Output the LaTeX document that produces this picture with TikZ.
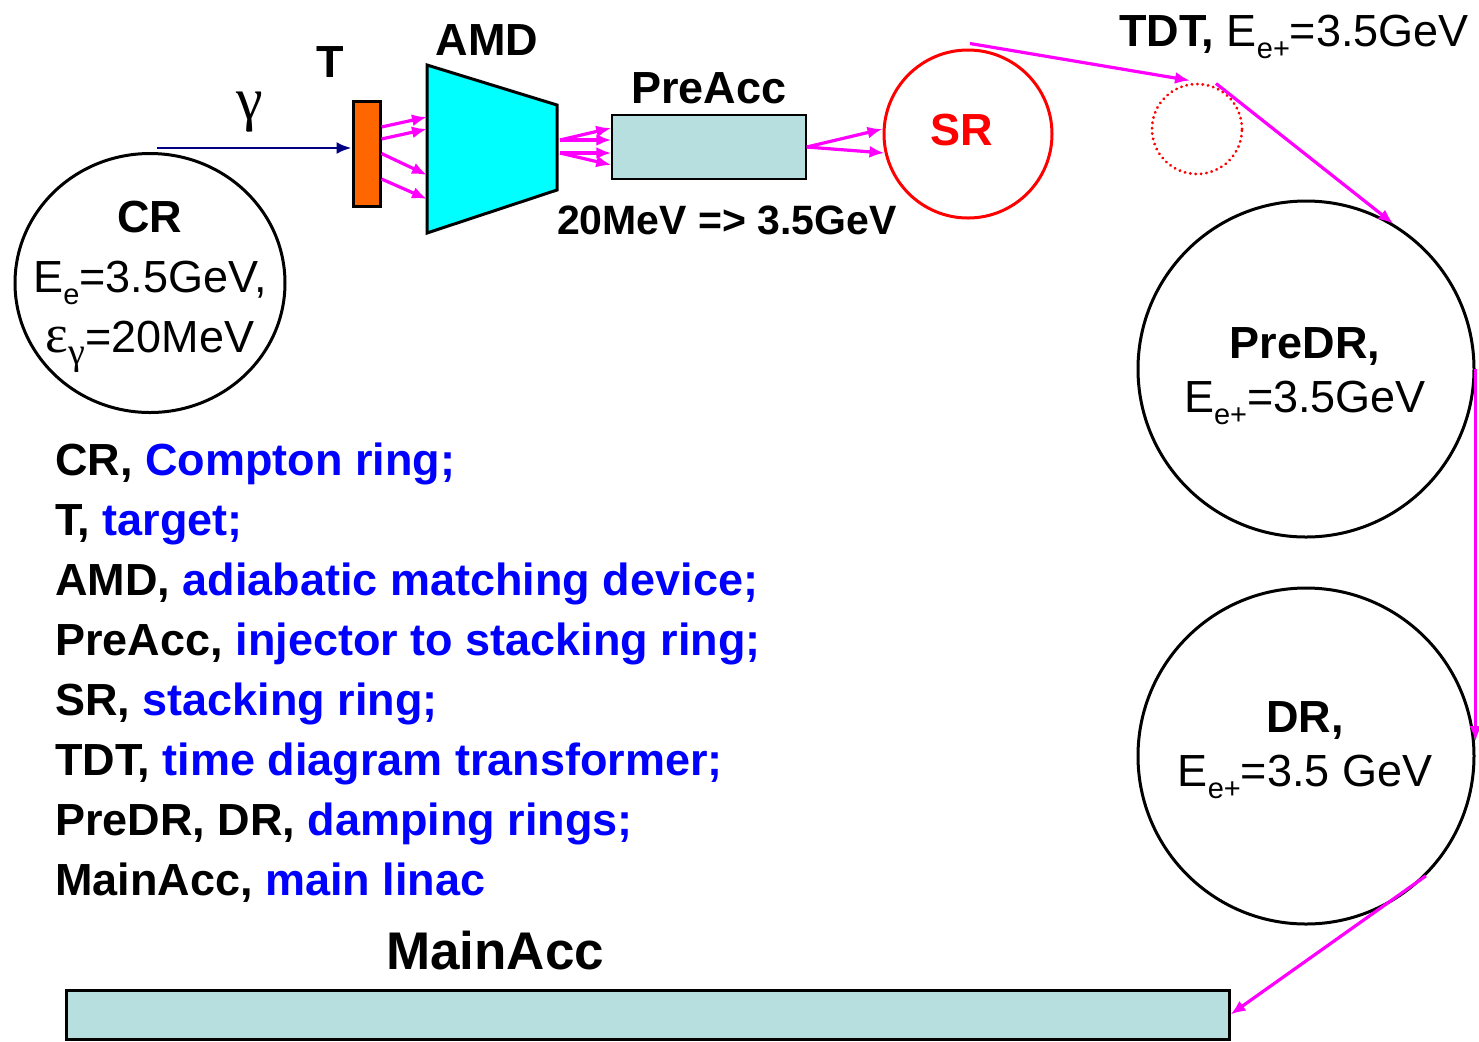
\documentclass[tikz,border=0pt]{standalone}
\usepackage{fontspec}
\setmainfont{Liberation Sans}
\newfontfamily\greekfont{Liberation Serif}
\usetikzlibrary{arrows.meta,positioning,shapes.geometric,calc}

\definecolor{amdcyan}{RGB}{0,255,255}
\definecolor{targetorange}{RGB}{255,102,0}
\definecolor{accblue}{RGB}{184,223,224}
\definecolor{beammagenta}{RGB}{255,0,255}
\definecolor{photonblue}{RGB}{0,0,128}
\definecolor{legendblue}{RGB}{0,0,255}

\newcommand{\lowsub}[1]{\raisebox{-6pt}{\fontsize{14.5}{14.5}\selectfont #1}}

\begin{document}
\begin{tikzpicture}[
  x=0.5pt, y=-0.5pt,
  lbl/.style={font=\bfseries\fontsize{22.5}{27}\selectfont, inner sep=0pt},
  val/.style={font=\fontsize{22.5}{30}\selectfont, inner sep=0pt, align=center},
  ring/.style={draw, circle, line width=1.5pt, inner sep=0pt},
  box/.style={draw, fill=accblue, inner sep=0pt},
  beam/.style={->, draw=beammagenta, line width=1.6pt},
  photon/.style={->, draw=photonblue, line width=1.3pt},
  >={Latex[length=7.5pt,width=6pt]}
]
\path[fill=white] (0,0) rectangle (1479,1041);
\useasboundingbox (0,0) rectangle (1479,1041);

\node[draw, ellipse, line width=1.5pt, minimum width=135pt, minimum height=129.5pt, inner sep=0pt] (cr) at (150,283) {};
\node[val] (crtext) at (150,287) {\textbf{CR}\\E\lowsub{e}=3.5GeV,\\{\greekfont\fontsize{27}{30}\selectfont ε}\lowsub{\greekfont\fontsize{19}{19}\selectfont γ}=20MeV};

\node[draw, fill=targetorange, line width=1.5pt, minimum width=13.5pt, minimum height=52.5pt, inner sep=0pt] (target) at (366.5,153.5) {};
\node[lbl] (tlabel) at (330,62) {T};

\coordinate (gammain) at ($(cr.north)+(7,-4)$);
\draw[photon] (gammain) -- (gammain -| target.west);
\node[val, font=\greekfont\fontsize{30}{30}\selectfont] (gammalabel) at (250,112) {γ};

\filldraw[fill=amdcyan, line width=1.5pt] (427,65) -- (557,105) -- (557,190) -- (427,233) -- cycle;
\node[lbl] (amdlabel) at (487,40) {AMD};
\coordinate (amdin1) at (427,117);
\coordinate (amdin2) at (427,129);
\coordinate (amdin3) at (427,175);
\coordinate (amdin4) at (427,199);
\coordinate (amdout1) at (560,140);
\coordinate (amdout2) at (560,153);

\draw[beam] ($(target.east)+(0,-26.5)$) -- (amdin1);
\draw[beam] ($(target.east)+(0,-14.5)$) -- (amdin2);
\draw[beam] (target.east) -- (amdin3);
\draw[beam] ($(target.east)+(0,25.5)$) -- (amdin4);

\node[box, line width=0.75pt, minimum width=97pt, minimum height=32pt] (preacc) at (709,147) {};
\node[lbl] (preacclabel) at (709,88) {PreAcc};
\node[lbl, font=\bfseries\fontsize{20.5}{24}\selectfont] (energylabel) at (727,220) {20MeV => 3.5GeV};

\draw[beam] (amdout1) -- ($(preacc.west)+(0,-19)$);
\draw[beam] (amdout1) -- ($(preacc.west)+(0,-7)$);
\draw[beam] (amdout2) -- ($(preacc.west)+(0,6)$);
\draw[beam] (amdout2) -- ($(preacc.west)+(0,18)$);

\node[ring, draw=red, minimum size=84pt] (sr) at (968,134) {};
\node[lbl, text=red] (srlabel) at (962,130) {SR};
\draw[beam] (preacc.east) -- ($(sr.west)+(0,-5)$);
\draw[beam] (preacc.east) -- ($(sr.west)+(2,19)$);

\node[circle, draw=red, line width=1.5pt, dash pattern=on 0.1pt off 2.6pt, line cap=round, minimum size=45pt, inner sep=0pt] (tdtring) at (1197,129) {};
\node[val, anchor=west] (tdtlabel) at (1119,37) {\textbf{TDT,} E\lowsub{e+}=3.5GeV};

\node[ring, minimum size=168pt] (predr) at (1306,369) {};
\node[val] (predrtext) at (1305,376) {\textbf{PreDR,}\\[-3pt]E\lowsub{e+}=3.5GeV};

\node[ring, minimum size=168pt] (dr) at (1306,756) {};
\node[val] (drtext) at (1305,750) {\textbf{DR,}\\[-3pt]E\lowsub{e+}=3.5 GeV};

\node[box, line width=1.5pt, minimum width=581.5pt, minimum height=24.5pt] (mainacc) at (647.5,1014.5) {};
\node[lbl, font=\bfseries\fontsize{26.5}{30}\selectfont] (mainacclabel) at (495,951) {MainAcc};

\draw[beam] ($(sr.north)+(2,-5)$) -- ($(tdtring.north)+(-7,-2)$);
\draw[beam] ($(tdtring.north)+(19,1)$) -- (predr.59);
\draw[beam] (predr.east) -- (predr.east |- dr.5);
\draw[beam] (dr.-45) -- (mainacc.east);

\node[lbl, font=\bfseries\fontsize{22.5}{30}\selectfont, anchor=north west, align=left] (legend) at (55,442) {%
CR, \textcolor{legendblue}{Compton ring;}\\
T, \textcolor{legendblue}{target;}\\
AMD, \textcolor{legendblue}{adiabatic matching device;}\\
PreAcc, \textcolor{legendblue}{injector to stacking ring;}\\
SR, \textcolor{legendblue}{stacking ring;}\\
TDT, \textcolor{legendblue}{time diagram transformer;}\\
PreDR, DR, \textcolor{legendblue}{damping rings;}\\
MainAcc, \textcolor{legendblue}{main linac}};
\end{tikzpicture}
\end{document}
